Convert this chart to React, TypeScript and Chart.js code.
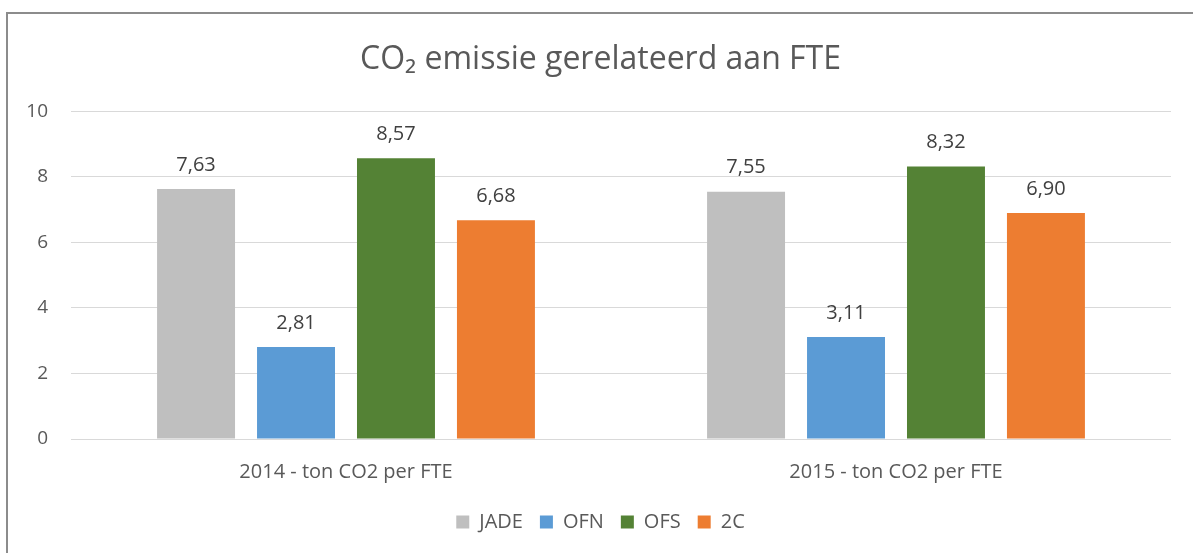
import React, { useEffect, useRef } from "react";
import { Chart, registerables } from "chart.js";

Chart.register(...registerables);

const categories = ["2014 - ton CO2 per FTE", "2015 - ton CO2 per FTE"];
const seriesNames = ["JADE", "OFN", "OFS", "2C"];
const jadeValues = [7.63, 7.55];
const ofnValues = [2.81, 3.11];
const ofsValues = [8.57, 8.32];
const twoCValues = [6.68, 6.9];
const seriesColors = ["#BFBFBF", "#5B9BD5", "#548235", "#ED7D31"];
const yTicks = [0, 2, 4, 6, 8, 10];

const FONT = "'Open Sans', sans-serif";

const valueLabelPlugin = {
  id: "valueLabels",
  afterDatasetsDraw(chart: any) {
    const ctx = chart.ctx;
    ctx.save();
    ctx.font = `20px ${FONT}`;
    ctx.fillStyle = "#404040";
    ctx.textAlign = "center";
    ctx.textBaseline = "middle";
    chart.data.datasets.forEach((ds: any, di: number) => {
      const meta = chart.getDatasetMeta(di);
      meta.data.forEach((bar: any, i: number) => {
        const v = ds.data[i] as number;
        ctx.fillText(v.toFixed(2).replace(".", ","), bar.x, bar.y - 24);
      });
    });
    ctx.restore();
  },
};

export default function App() {
  const ref = useRef<HTMLCanvasElement | null>(null);
  useEffect(() => {
    if (!ref.current) return;
    const all = [jadeValues, ofnValues, ofsValues, twoCValues];
    const chart = new Chart(ref.current, {
      type: "bar",
      data: {
        labels: categories,
        datasets: seriesNames.map((name, i) => ({
          label: name,
          data: all[i],
          backgroundColor: seriesColors[i],
          borderWidth: 0,
          categoryPercentage: 0.727,
          barPercentage: 0.78,
        })),
      },
      options: {
        animation: false,
        responsive: false,
        maintainAspectRatio: false,
        layout: { padding: { left: 20, right: 12, top: 0, bottom: 11 } },
        plugins: {
          title: {
            display: true,
            text: "CO₂ emissie gerelateerd aan FTE",
            color: "#595959",
            font: { family: FONT, size: 32, weight: "normal" },
            padding: { top: 41, bottom: 32 },
          },
          legend: {
            position: "bottom",
            labels: {
              boxWidth: 13,
              boxHeight: 13,
              color: "#595959",
              font: { family: FONT, size: 20 },
              padding: 17,
            },
          },
          tooltip: { enabled: false },
        },
        scales: {
          x: {
            grid: { display: false, drawTicks: false },
            border: { display: false },
            ticks: { color: "#595959", font: { family: FONT, size: 20 }, padding: 21 },
            afterFit(scale: any) {
              scale.height = 56;
            },
          },
          y: {
            min: 0,
            max: 10,
            afterBuildTicks(scale: any) {
              scale.ticks = yTicks.map((v) => ({ value: v }));
            },
            afterFit(scale: any) {
              scale.width = 51;
            },
            grid: { color: "#D9D9D9", drawTicks: false, lineWidth: 1 },
            border: { display: false },
            ticks: { color: "#595959", font: { family: FONT, size: 19 }, padding: 23 },
          },
          spacer: {
            type: "linear",
            position: "right",
            display: true,
            grid: { display: false, drawTicks: false },
            border: { display: false },
            ticks: { display: false },
            afterFit(scale: any) {
              scale.width = 10;
            },
          },
        },
      },
      plugins: [valueLabelPlugin],
    });
    return () => chart.destroy();
  }, []);
  return (
    <div style={{ position: "fixed", left: 0, top: 0, width: 1193, height: 553, background: "#fff", overflow: "hidden" }}>
      <div
        style={{
          position: "absolute",
          left: 6,
          top: 12,
          width: 1300,
          height: 700,
          border: "2px solid #8C8C8C",
          boxSizing: "border-box",
        }}
      />
      <canvas ref={ref} width={1193} height={553} style={{ position: "absolute", left: 0, top: 0 }} />
    </div>
  );
}
